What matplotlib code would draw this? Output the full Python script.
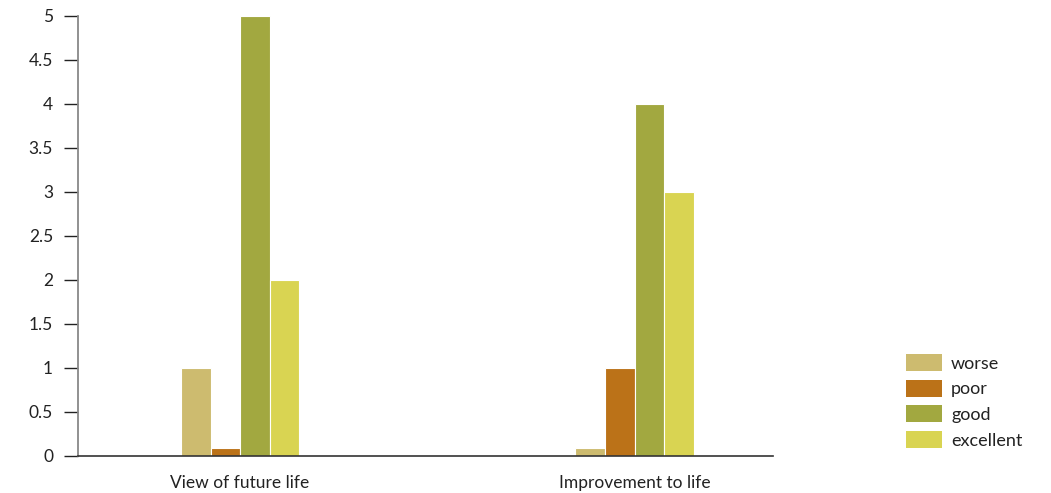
import matplotlib
matplotlib.use("Agg")
import matplotlib.pyplot as plt
import numpy as np
from matplotlib.patches import Patch

plt.rcParams['font.family'] = ['Lato', 'DejaVu Sans']

categories = ["View of future life", "Improvement to life"]
series_names = ["worse", "poor", "good", "excellent"]
worse = [1, 0.08]
poor = [0.08, 1]
good = [5, 4]
excellent = [2, 3]
series_values = [worse, poor, good, excellent]
colors = ["#CDBB6F", "#BB7218", "#A2A840", "#D9D452"]
y_ticks = [0, 0.5, 1, 1.5, 2, 2.5, 3, 3.5, 4, 4.5, 5]
y_tick_labels = ["0", "0.5", "1", "1.5", "2", "2.5", "3", "3.5", "4", "4.5", "5"]

W, H = 1051, 493
fig = plt.figure(figsize=(W / 100, H / 100), dpi=100)
ax = fig.add_axes([78 / W, (H - 455.5) / H, (773 - 78) / W, (455.5 - 16) / H])

x = np.arange(len(categories))
bw = 0.075
for i, (name, vals) in enumerate(zip(series_names, series_values)):
    ax.bar(x + (i - 1.5) * bw, vals, width=bw, color=colors[i], edgecolor="white",
           linewidth=0.8, label=name)

ax.set_xlim(-0.411, 1.351)
ax.set_ylim(0, 5)
ax.set_yticks(y_ticks)
ax.set_yticklabels(y_tick_labels)
ax.set_xticks(x)
ax.set_xticklabels(categories)

for s in ["top", "right"]:
    ax.spines[s].set_visible(False)
ax.spines["left"].set_color("#888888")
ax.spines["left"].set_linewidth(1.3)
ax.spines["bottom"].set_color("#333333")
ax.spines["bottom"].set_linewidth(1.2)

ax.tick_params(axis="y", length=10, width=1, color="#222222", pad=8, labelsize=12.5,
               labelcolor="#222222")
ax.tick_params(axis="x", length=0, pad=14, labelsize=12.5, labelcolor="#222222")

handles = [Patch(facecolor=c, edgecolor="none") for c in colors]
fig.legend(handles, series_names, loc="upper left",
           bbox_to_anchor=(906 / W, (H - 354) / H), frameon=False,
           fontsize=13, handlelength=2.0, handleheight=1.1, handletextpad=0.5,
           labelspacing=0.43, labelcolor="#222222", borderpad=0, borderaxespad=0)

fig.savefig("out.png", dpi=100)
